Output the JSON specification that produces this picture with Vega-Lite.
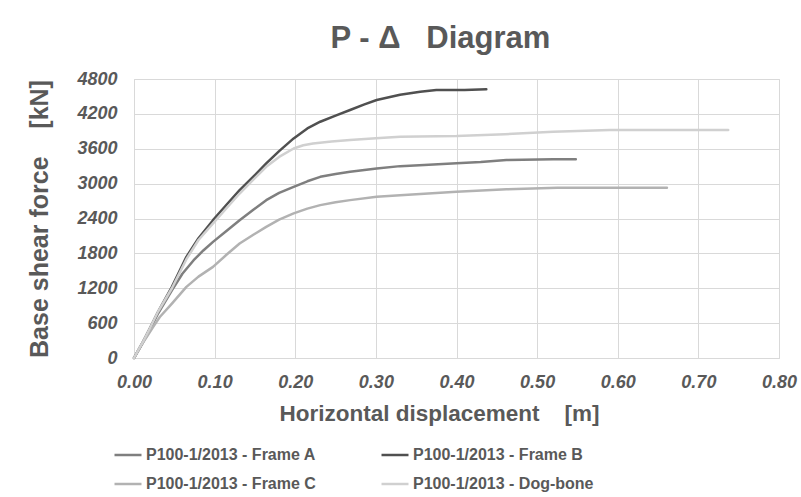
{
  "$schema": "https://vega.github.io/schema/vega-lite/v6.json",
  "width": 645,
  "height": 279,
  "autosize": {"type": "none"},
  "padding": {"left": 134, "top": 79, "right": 22, "bottom": 139},
  "background": "white",
  "title": {
    "text": "P - Δ \u00a0 Diagram",
    "font": "Liberation Sans",
    "fontSize": 31,
    "fontWeight": "bold",
    "color": "#595959",
    "anchor": "middle",
    "dx": -16,
    "offset": 15
  },
  "config": {
    "view": {"stroke": "#d9d9d9", "strokeWidth": 1},
    "font": "Liberation Sans"
  },
  "data": {
    "values": [
      {"series": "P100-1/2013 - Frame A", "x": 0, "y": 0},
      {"series": "P100-1/2013 - Frame A", "x": 0.01, "y": 240},
      {"series": "P100-1/2013 - Frame A", "x": 0.02, "y": 500},
      {"series": "P100-1/2013 - Frame A", "x": 0.03, "y": 770},
      {"series": "P100-1/2013 - Frame A", "x": 0.047, "y": 1165},
      {"series": "P100-1/2013 - Frame A", "x": 0.06, "y": 1450},
      {"series": "P100-1/2013 - Frame A", "x": 0.074, "y": 1682},
      {"series": "P100-1/2013 - Frame A", "x": 0.086, "y": 1850},
      {"series": "P100-1/2013 - Frame A", "x": 0.098, "y": 1998},
      {"series": "P100-1/2013 - Frame A", "x": 0.115, "y": 2190},
      {"series": "P100-1/2013 - Frame A", "x": 0.131, "y": 2371},
      {"series": "P100-1/2013 - Frame A", "x": 0.148, "y": 2550},
      {"series": "P100-1/2013 - Frame A", "x": 0.164, "y": 2716},
      {"series": "P100-1/2013 - Frame A", "x": 0.18, "y": 2840},
      {"series": "P100-1/2013 - Frame A", "x": 0.198, "y": 2945},
      {"series": "P100-1/2013 - Frame A", "x": 0.215, "y": 3040},
      {"series": "P100-1/2013 - Frame A", "x": 0.231, "y": 3117},
      {"series": "P100-1/2013 - Frame A", "x": 0.25, "y": 3165},
      {"series": "P100-1/2013 - Frame A", "x": 0.268, "y": 3204},
      {"series": "P100-1/2013 - Frame A", "x": 0.301, "y": 3261},
      {"series": "P100-1/2013 - Frame A", "x": 0.33, "y": 3301},
      {"series": "P100-1/2013 - Frame A", "x": 0.36, "y": 3320},
      {"series": "P100-1/2013 - Frame A", "x": 0.4, "y": 3349},
      {"series": "P100-1/2013 - Frame A", "x": 0.43, "y": 3370},
      {"series": "P100-1/2013 - Frame A", "x": 0.462, "y": 3406},
      {"series": "P100-1/2013 - Frame A", "x": 0.52, "y": 3418},
      {"series": "P100-1/2013 - Frame A", "x": 0.548, "y": 3418},
      {"series": "P100-1/2013 - Frame B", "x": 0, "y": 0},
      {"series": "P100-1/2013 - Frame B", "x": 0.01, "y": 250},
      {"series": "P100-1/2013 - Frame B", "x": 0.02, "y": 520},
      {"series": "P100-1/2013 - Frame B", "x": 0.03, "y": 800},
      {"series": "P100-1/2013 - Frame B", "x": 0.047, "y": 1223},
      {"series": "P100-1/2013 - Frame B", "x": 0.065, "y": 1740},
      {"series": "P100-1/2013 - Frame B", "x": 0.08, "y": 2060},
      {"series": "P100-1/2013 - Frame B", "x": 0.098, "y": 2371},
      {"series": "P100-1/2013 - Frame B", "x": 0.115, "y": 2640},
      {"series": "P100-1/2013 - Frame B", "x": 0.131, "y": 2888},
      {"series": "P100-1/2013 - Frame B", "x": 0.148, "y": 3120},
      {"series": "P100-1/2013 - Frame B", "x": 0.164, "y": 3347},
      {"series": "P100-1/2013 - Frame B", "x": 0.18, "y": 3560},
      {"series": "P100-1/2013 - Frame B", "x": 0.198, "y": 3778},
      {"series": "P100-1/2013 - Frame B", "x": 0.215, "y": 3950},
      {"series": "P100-1/2013 - Frame B", "x": 0.231, "y": 4065},
      {"series": "P100-1/2013 - Frame B", "x": 0.25, "y": 4170},
      {"series": "P100-1/2013 - Frame B", "x": 0.268, "y": 4266},
      {"series": "P100-1/2013 - Frame B", "x": 0.285, "y": 4360},
      {"series": "P100-1/2013 - Frame B", "x": 0.301, "y": 4438},
      {"series": "P100-1/2013 - Frame B", "x": 0.33, "y": 4530},
      {"series": "P100-1/2013 - Frame B", "x": 0.355, "y": 4582},
      {"series": "P100-1/2013 - Frame B", "x": 0.375, "y": 4611},
      {"series": "P100-1/2013 - Frame B", "x": 0.41, "y": 4611},
      {"series": "P100-1/2013 - Frame B", "x": 0.437, "y": 4623},
      {"series": "P100-1/2013 - Frame C", "x": 0, "y": 0},
      {"series": "P100-1/2013 - Frame C", "x": 0.008, "y": 200},
      {"series": "P100-1/2013 - Frame C", "x": 0.0157, "y": 362},
      {"series": "P100-1/2013 - Frame C", "x": 0.024, "y": 540},
      {"series": "P100-1/2013 - Frame C", "x": 0.032, "y": 706},
      {"series": "P100-1/2013 - Frame C", "x": 0.047, "y": 936},
      {"series": "P100-1/2013 - Frame C", "x": 0.065, "y": 1223},
      {"series": "P100-1/2013 - Frame C", "x": 0.08, "y": 1400},
      {"series": "P100-1/2013 - Frame C", "x": 0.098, "y": 1568},
      {"series": "P100-1/2013 - Frame C", "x": 0.115, "y": 1780},
      {"series": "P100-1/2013 - Frame C", "x": 0.131, "y": 1969},
      {"series": "P100-1/2013 - Frame C", "x": 0.148, "y": 2120},
      {"series": "P100-1/2013 - Frame C", "x": 0.164, "y": 2257},
      {"series": "P100-1/2013 - Frame C", "x": 0.18, "y": 2380},
      {"series": "P100-1/2013 - Frame C", "x": 0.198, "y": 2487},
      {"series": "P100-1/2013 - Frame C", "x": 0.215, "y": 2570},
      {"series": "P100-1/2013 - Frame C", "x": 0.231, "y": 2630},
      {"series": "P100-1/2013 - Frame C", "x": 0.25, "y": 2680},
      {"series": "P100-1/2013 - Frame C", "x": 0.268, "y": 2716},
      {"series": "P100-1/2013 - Frame C", "x": 0.301, "y": 2774},
      {"series": "P100-1/2013 - Frame C", "x": 0.33, "y": 2802},
      {"series": "P100-1/2013 - Frame C", "x": 0.4, "y": 2861},
      {"series": "P100-1/2013 - Frame C", "x": 0.462, "y": 2902},
      {"series": "P100-1/2013 - Frame C", "x": 0.525, "y": 2930},
      {"series": "P100-1/2013 - Frame C", "x": 0.661, "y": 2930},
      {"series": "P100-1/2013 - Dog-bone", "x": 0, "y": 0},
      {"series": "P100-1/2013 - Dog-bone", "x": 0.01, "y": 250},
      {"series": "P100-1/2013 - Dog-bone", "x": 0.02, "y": 520},
      {"series": "P100-1/2013 - Dog-bone", "x": 0.03, "y": 800},
      {"series": "P100-1/2013 - Dog-bone", "x": 0.047, "y": 1200},
      {"series": "P100-1/2013 - Dog-bone", "x": 0.065, "y": 1700},
      {"series": "P100-1/2013 - Dog-bone", "x": 0.08, "y": 2030},
      {"series": "P100-1/2013 - Dog-bone", "x": 0.098, "y": 2315},
      {"series": "P100-1/2013 - Dog-bone", "x": 0.115, "y": 2580},
      {"series": "P100-1/2013 - Dog-bone", "x": 0.131, "y": 2830},
      {"series": "P100-1/2013 - Dog-bone", "x": 0.148, "y": 3070},
      {"series": "P100-1/2013 - Dog-bone", "x": 0.164, "y": 3290},
      {"series": "P100-1/2013 - Dog-bone", "x": 0.18, "y": 3460},
      {"series": "P100-1/2013 - Dog-bone", "x": 0.198, "y": 3605},
      {"series": "P100-1/2013 - Dog-bone", "x": 0.21, "y": 3660},
      {"series": "P100-1/2013 - Dog-bone", "x": 0.222, "y": 3691},
      {"series": "P100-1/2013 - Dog-bone", "x": 0.245, "y": 3725},
      {"series": "P100-1/2013 - Dog-bone", "x": 0.268, "y": 3749},
      {"series": "P100-1/2013 - Dog-bone", "x": 0.3, "y": 3780},
      {"series": "P100-1/2013 - Dog-bone", "x": 0.33, "y": 3806},
      {"series": "P100-1/2013 - Dog-bone", "x": 0.4, "y": 3819},
      {"series": "P100-1/2013 - Dog-bone", "x": 0.46, "y": 3850},
      {"series": "P100-1/2013 - Dog-bone", "x": 0.52, "y": 3893},
      {"series": "P100-1/2013 - Dog-bone", "x": 0.59, "y": 3923},
      {"series": "P100-1/2013 - Dog-bone", "x": 0.737, "y": 3923}
    ]
  },
  "mark": {"type": "line", "strokeWidth": 2.5, "strokeCap": "round", "strokeJoin": "round"},
  "encoding": {
    "x": {
      "field": "x",
      "type": "quantitative",
      "scale": {"domain": [0, 0.8], "nice": false, "zero": false},
      "axis": {
        "values": [0, 0.1, 0.2, 0.3, 0.4, 0.5, 0.6, 0.7, 0.8],
        "format": ".2f",
        "title": "Horizontal displacement \u00a0 \u00a0[m]",
        "titleFont": "Liberation Sans",
        "titleFontSize": 22.5,
        "titleFontWeight": "bold",
        "titleColor": "#595959",
        "titleX": 305,
        "titleAlign": "center",
        "titlePadding": 11,
        "labelFont": "Liberation Sans",
        "labelFontSize": 18,
        "labelFontWeight": "bold",
        "labelFontStyle": "italic",
        "labelColor": "#595959",
        "labelPadding": 15,
        "labelFlush": false,
        "ticks": false,
        "domain": false,
        "grid": true,
        "gridColor": "#d9d9d9",
        "gridWidth": 1
      }
    },
    "y": {
      "field": "y",
      "type": "quantitative",
      "scale": {"domain": [0, 4800], "nice": false},
      "axis": {
        "values": [0, 600, 1200, 1800, 2400, 3000, 3600, 4200, 4800],
        "format": "d",
        "title": "Base shear force \u00a0 \u00a0[kN]",
        "titleFont": "Liberation Sans",
        "titleFontSize": 25,
        "titleFontWeight": "bold",
        "titleColor": "#595959",
        "titlePadding": 24,
        "labelFont": "Liberation Sans",
        "labelFontSize": 18,
        "labelFontWeight": "bold",
        "labelFontStyle": "italic",
        "labelColor": "#595959",
        "labelPadding": 17,
        "labelFlush": false,
        "ticks": false,
        "domain": false,
        "grid": true,
        "gridColor": "#d9d9d9",
        "gridWidth": 1
      }
    },
    "color": {
      "field": "series",
      "type": "nominal",
      "scale": {
        "domain": ["P100-1/2013 - Frame A", "P100-1/2013 - Frame B", "P100-1/2013 - Frame C", "P100-1/2013 - Dog-bone"],
        "range": ["#7f7f7f", "#505050", "#b2b2b2", "#d0d0d0"]
      },
      "legend": {
        "title": null,
        "orient": "none",
        "legendX": -21,
        "legendY": 361,
        "direction": "horizontal",
        "columns": 2,
        "columnPadding": 60,
        "rowPadding": 6,
        "symbolType": "stroke",
        "symbolSize": 729,
        "symbolStrokeWidth": 2.5,
        "labelFont": "Liberation Sans",
        "labelFontSize": 16,
        "labelFontWeight": "bold",
        "labelColor": "#595959",
        "labelOffset": 3,
        "labelLimit": 300
      }
    }
  }
}
